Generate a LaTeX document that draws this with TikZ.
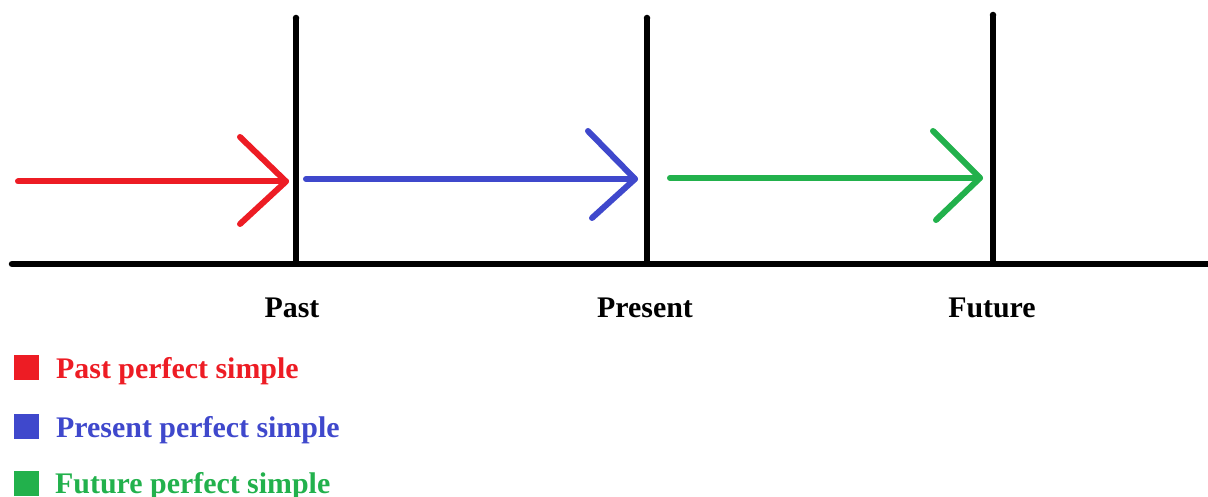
\documentclass[tikz,border=0pt]{standalone}
\usepackage{fontspec}
\setmainfont{Liberation Serif}
\definecolor{pred}{HTML}{ED1C24}
\definecolor{pblue}{HTML}{3F48CC}
\definecolor{pgreen}{HTML}{22B14C}
\tikzset{
  axis/.style={line width=6.5pt, black, line cap=round},
  tline/.style={line width=6pt, line cap=round, line join=round},
  tlabel/.style={anchor=base, inner sep=0pt, font=\fontsize{29.9}{30}\selectfont\bfseries},
  legtext/.style={anchor=base west, inner sep=0pt, font=\fontsize{29.9}{30}\selectfont\bfseries},
  legbox/.style={minimum width=25pt, minimum height=25pt, inner sep=0pt, anchor=north west}
}
\begin{document}
\begin{tikzpicture}[x=1pt,y=-1pt]
\useasboundingbox (0,0) rectangle (1208,497);
% axis
\coordinate (axL) at (12,264);
\coordinate (axR) at (1212,264);
\draw[axis] (axL) -- (axR);
% verticals
\coordinate (pastT) at (296,18);  \coordinate (pastB) at (296,264);
\coordinate (presT) at (647,18);  \coordinate (presB) at (647,264);
\coordinate (futT) at (993,15);   \coordinate (futB) at (993,264);
\draw[axis, line cap=butt] (pastT) -- (pastB);
\draw[axis, line cap=butt] (presT) -- (presB);
\draw[axis, line cap=butt] (futT) -- (futB);
\fill (pastT) circle (3.25pt); \fill (presT) circle (3.25pt); \fill (futT) circle (3.25pt);
% labels
\node[tlabel] (lpast) at (292,317) {Past};
\node[tlabel] (lpres) at (645,317) {Present};
\node[tlabel] (lfut) at (992,317) {Future};
% red arrow
\coordinate (rS) at (18,181.5); \coordinate (rT) at (286,181.5);
\coordinate (rU) at (240,137); \coordinate (rD) at (240,224);
\draw[tline, pred] (rS) -- (rT);
\draw[tline, pred] (rU) -- (rT) -- (rD);
% blue arrow
\coordinate (bS) at (306,179); \coordinate (bT) at (635,179);
\coordinate (bU) at (588,131); \coordinate (bD) at (592,218);
\draw[tline, pblue] (bS) -- (bT);
\draw[tline, pblue] (bU) -- (bT) -- (bD);
% green arrow
\coordinate (gS) at (670,178); \coordinate (gT) at (980,178);
\coordinate (gU) at (933,131); \coordinate (gD) at (936,220);
\draw[tline, pgreen] (gS) -- (gT);
\draw[tline, pgreen] (gU) -- (gT) -- (gD);
% legend
\node[legbox, fill=pred] (kred) at (14,355) {};
\node[legtext, text=pred] (tred) at (56,378) {Past perfect simple};
\node[legbox, fill=pblue] (kblue) at (14,414) {};
\node[legtext, text=pblue] (tblue) at (56,437) {Present perfect simple};
\node[legbox, fill=pgreen] (kgreen) at (14,471) {};
\node[legtext, text=pgreen] (tgreen) at (55,493) {Future perfect simple};
\end{tikzpicture}
\end{document}
